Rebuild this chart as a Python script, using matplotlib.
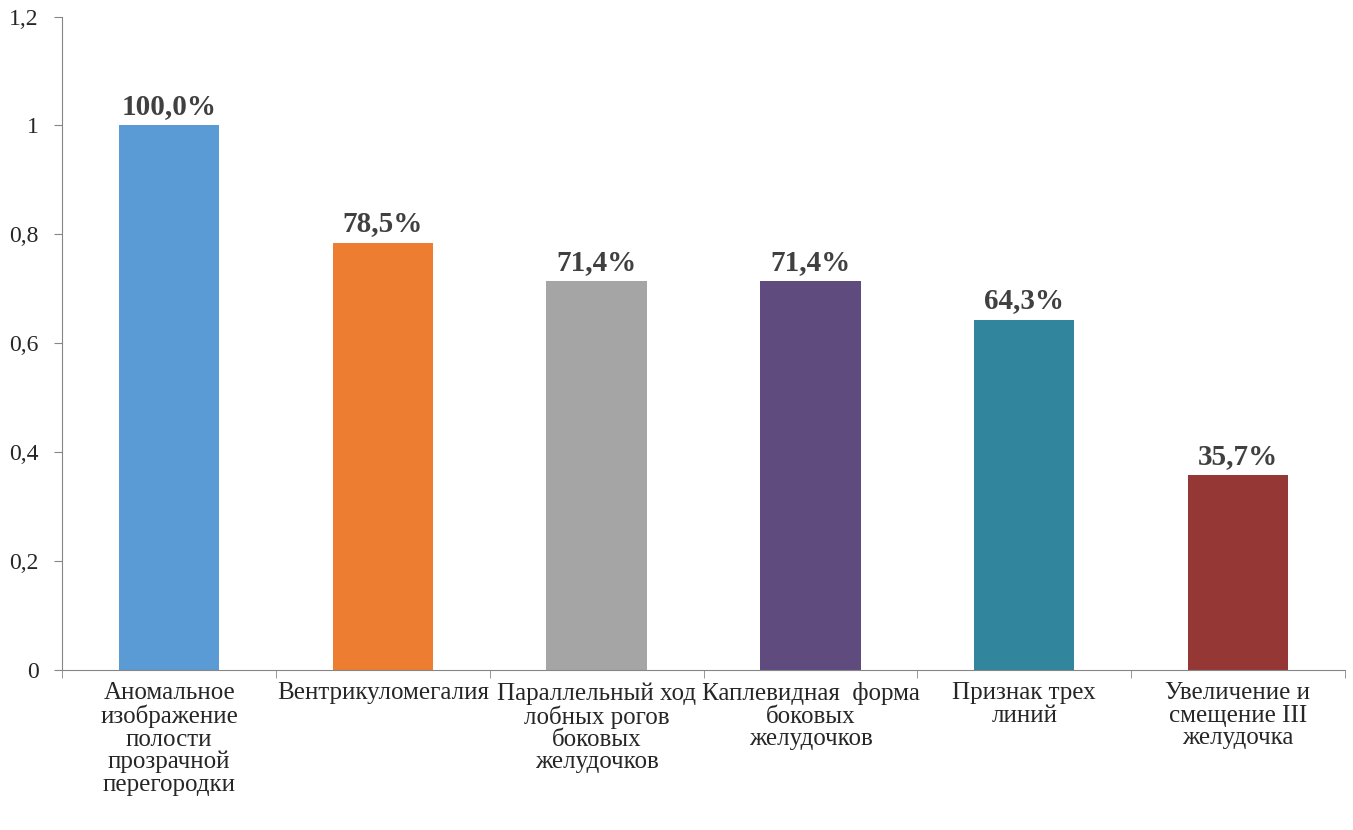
import matplotlib.pyplot as plt
import numpy as np

categories = [
    "Аномальное\nизображение\nполости\nпрозрачной\nперегородки",
    "Вентрикуломегалия",
    "Параллельный ход\nлобных рогов\nбоковых\nжелудочков",
    "Каплевидная  форма\nбоковых\nжелудочков",
    "Признак трех\nлиний",
    "Увеличение и\nсмещение III\nжелудочка",
]
values = [1.0, 0.785, 0.714, 0.714, 0.643, 0.357]
labels = ["100,0%", "78,5%", "71,4%", "71,4%", "64,3%", "35,7%"]
colors = ["#5B9BD5", "#ED7D31", "#A5A5A5", "#5F4B7D", "#31859C", "#953735"]
yticks = [0, 0.2, 0.4, 0.6, 0.8, 1.0, 1.2]
ytick_labels = ["0", "0,2", "0,4", "0,6", "0,8", "1", "1,2"]

plt.rcParams['font.family'] = ['Liberation Serif', 'DejaVu Serif']

fig = plt.figure(figsize=(13.53, 8.30), dpi=100)
ax = fig.add_axes([0.046, 0.193, 0.948, 0.787])

x = np.arange(len(values))
ax.bar(x, values, width=0.47, color=colors)

for xi, v, lab in zip(x, values, labels):
    ax.text(xi, v + 0.01, lab, ha='center', va='bottom', fontsize=21,
            fontweight='bold', color='#404040')

ax.set_xlim(-0.5, len(values) - 0.5)
ax.set_ylim(0, 1.2)
ax.set_yticks(yticks)
ax.set_yticklabels(ytick_labels, fontsize=17, color='#262626')
ax.set_xticks(x)
ax.set_xticklabels(categories, fontsize=18, linespacing=1.02, color='#262626')
ax.set_xticks(np.arange(len(values) + 1) - 0.5, minor=True)

ax.tick_params(axis='x', which='major', length=0, pad=9)
ax.tick_params(axis='x', which='minor', length=6, color='#868686')
ax.tick_params(axis='y', length=6, color='#868686', pad=11)

for side in ['top', 'right']:
    ax.spines[side].set_visible(False)
for side in ['left', 'bottom']:
    ax.spines[side].set_color('#868686')

fig.savefig('out.png', dpi=100)
